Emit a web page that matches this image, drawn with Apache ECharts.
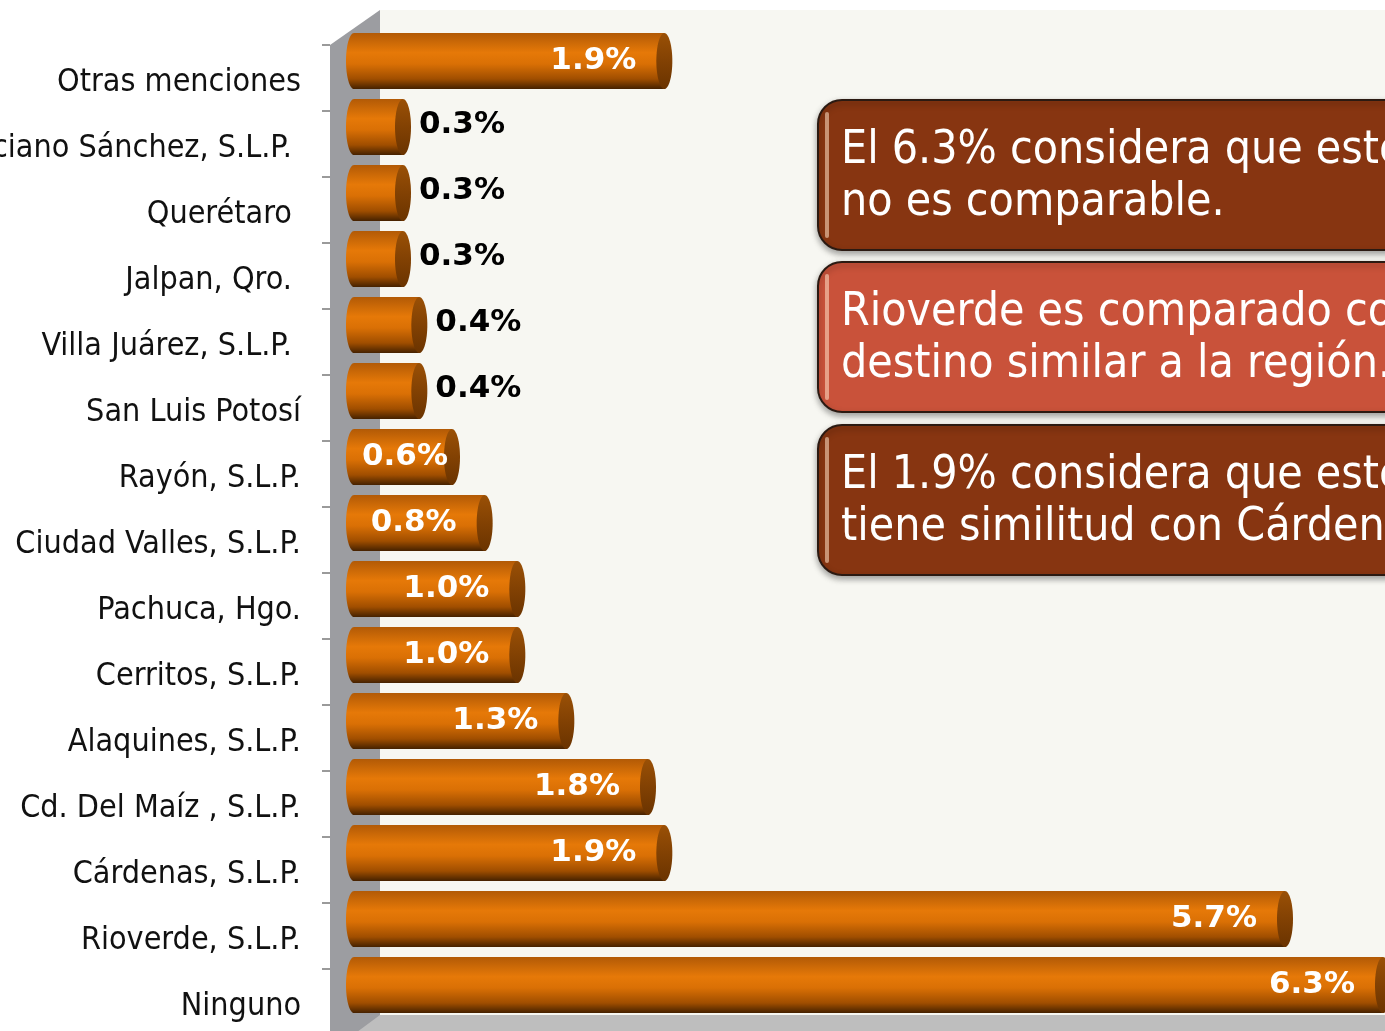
<!DOCTYPE html>
<html>
<head>
<meta charset="utf-8">
<script src="https://cdn.jsdelivr.net/npm/echarts@6/dist/echarts.min.js"></script>
<style>
  html, body { margin: 0; padding: 0; background: #fff; }
  #chart { width: 1385px; height: 1031px; }
</style>
</head>
<body>
<div id="chart"></div>
<script>
// categories, top to bottom (trailing spaces kept as in the original slide)
let categories = [
  "Otras menciones",
  "Graciano Sánchez, S.L.P. ",
  "Querétaro ",
  "Jalpan, Qro. ",
  "Villa Juárez, S.L.P. ",
  "San Luis Potosí",
  "Rayón, S.L.P.",
  "Ciudad Valles, S.L.P.",
  "Pachuca, Hgo.",
  "Cerritos, S.L.P.",
  "Alaquines, S.L.P.",
  "Cd. Del Maíz , S.L.P.",
  "Cárdenas, S.L.P.",
  "Rioverde, S.L.P.",
  "Ninguno"
]
let values = [1.9, 0.3, 0.3, 0.3, 0.4, 0.4, 0.6, 0.8, 1.0, 1.0, 1.3, 1.8, 1.9, 5.7, 6.3]

let notes = [
  "El 6.3% considera que este destino\nno es comparable.",
  "Rioverde es comparado como un\ndestino similar a la región.",
  "El 1.9% considera que este destino\ntiene similitud con Cárdenas."
]

const FONT = "'DejaVu Sans Condensed', 'DejaVu Sans', sans-serif"

//cylinder body colours
function bodyGradient() {
  return new echarts.graphic.LinearGradient(0, 0, 0, 1, [
    { offset: 0, color: "#b25a06" },
    { offset: 0.35, color: "#e67908" },
    { offset: 0.55, color: "#da7005" },
    { offset: 0.82, color: "#a04e00" },
    { offset: 1, color: "#452100" }
  ])
}

// each bar is drawn as a cylinder lying in the middle of the 3D depth
function renderItem(params, api) {
  let v = api.value(0)
  let idx = api.value(1)
  let start = api.coord([0, idx])
  let end = api.coord([v, idx])
  let h = api.size([0, 1])[1] * 0.85
  let cy = start[1] - 17
  let x0 = start[0] + 24
  let x1 = end[0] + 24
  let rx = 8
  let small = v < 0.5
  let label = v.toFixed(1) + "%"
  return {
    type: "group",
    children: [
      {
        type: "ellipse",
        shape: { cx: x0, cy: cy, rx: rx, ry: h / 2 },
        style: { fill: bodyGradient() }
      },
      {
        type: "rect",
        shape: { x: x0, y: cy - h / 2, width: x1 - x0, height: h },
        style: { fill: bodyGradient() }
      },
      {
        type: "ellipse",
        shape: { cx: x1, cy: cy, rx: rx, ry: h / 2 },
        style: {
          fill: new echarts.graphic.LinearGradient(0, 0, 0, 1, [
            { offset: 0, color: "#9a5006" },
            { offset: 1, color: "#6a3300" }
          ])
        }
      },
      {
        type: "text",
        z2: 10,
        style: {
          text: label,
          x: small ? x1 + 16 : Math.max(x1 - 28, 448),
          y: cy + (small ? -2 : 0),
          align: small ? "left" : "right",
          verticalAlign: "middle",
          fill: small ? "#000" : "#fff",
          font: "bold 31px 'DejaVu Sans', sans-serif"
        }
      }
    ]
  }
}

function noteBox(y, color, text) {
  return {
    type: "group",
    z: 10,
    children: [
      {
        type: "rect",
        shape: { x: 818, y: y, width: 640, height: 150, r: 24 },
        style: {
          fill: color,
          stroke: "#2b1a12",
          lineWidth: 2,
          shadowBlur: 6,
          shadowOffsetY: 3,
          shadowColor: "rgba(0,0,0,0.35)"
        }
      },
      {
        type: "rect",
        shape: { x: 825, y: y + 12, width: 4, height: 126, r: 2 },
        style: { fill: "rgba(255,225,200,0.55)" }
      },
      {
        type: "text",
        style: {
          text: text,
          x: 841,
          y: y + 77,
          verticalAlign: "middle",
          fill: "#fff",
          font: "46px " + FONT,
          lineHeight: 52
        }
      }
    ]
  }
}

let myChart = echarts.init(document.getElementById("chart"))
let option = {
  animation: false,
  backgroundColor: "#fff",
  grid: {
    left: 330,
    top: 45,
    height: 990,
    right: 26,
    outerBoundsMode: "none",
    containLabel: false
  },
  xAxis: {
    type: "value",
    min: 0,
    max: 6.3,
    show: false
  },
  yAxis: {
    type: "category",
    inverse: true,
    data: categories,
    axisLine: { show: false },
    axisTick: {
      show: true,
      length: 8,
      lineStyle: { color: "#7a7a7a", width: 1.5 }
    },
    axisLabel: {
      margin: 29,
      color: "#111",
      fontSize: 32,
      fontFamily: FONT,
      formatter: function (name) {
        return "{t|" + name + "}"
      },
      // nudge the names down a little, as on the slide
      rich: {
        t: {
          color: "#111",
          fontSize: 32,
          fontFamily: FONT,
          padding: [10, 0, 0, 0]
        }
      }
    }
  },
  //walls, floor and the three text boxes
  graphic: [
    {
      type: "rect",
      z: 0,
      silent: true,
      shape: { x: 380, y: 10, width: 1005, height: 1010 },
      style: { fill: "#f7f7f2" }
    },
    {
      type: "polygon",
      z: 0,
      silent: true,
      shape: { points: [[330, 45], [380, 10], [380, 1020], [330, 1060]] },
      style: { fill: "#9c9da1" }
    },
    {
      type: "polygon",
      z: 0,
      silent: true,
      shape: { points: [[330, 1052], [380, 1015], [1385, 1015], [1385, 1052]] },
      style: { fill: "#bebebe" }
    },
    noteBox(100, "#873511", notes[0]),
    noteBox(262, "#c9523a", notes[1]),
    noteBox(425, "#873511", notes[2])
  ],
  series: [
    {
      type: "custom",
      renderItem: renderItem,
      clip: false,
      encode: { x: 0, y: 1 },
      data: values.map(function (v, i) { return [v, i] })
    }
  ]
}
myChart.setOption(option)
</script>
</body>
</html>
